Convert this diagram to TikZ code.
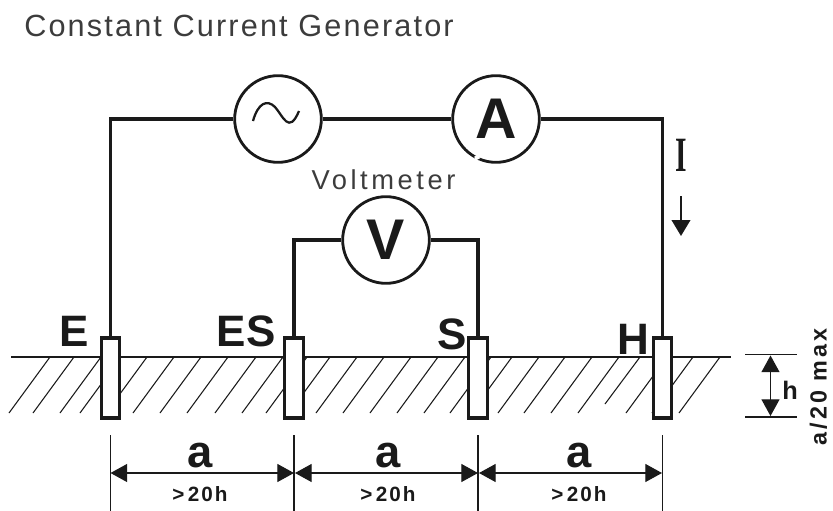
\documentclass[tikz,border=0pt]{standalone}
\usepackage{amsmath}
\usepackage{fontspec}
\usepackage{tikz}
\usetikzlibrary{arrows.meta}
\setmainfont{Liberation Sans}
\newfontfamily\titlefont[LetterSpace=7]{Liberation Sans}
\newfontfamily\voltfont[LetterSpace=13]{Liberation Sans}
\newfontfamily\notefont[LetterSpace=10]{Liberation Sans Bold}
\newfontfamily\maxfont[LetterSpace=13]{Liberation Sans Bold}
\newfontfamily\serifI{Liberation Serif Bold}
\definecolor{inkblack}{HTML}{1A1A1A}
\definecolor{inkgrey}{HTML}{3C3C3C}
\tikzset{
  wire/.style={line width=2.4pt,color=inkblack,line join=miter},
  meter/.style={draw=inkblack,circle,line width=2.1pt,fill=white,minimum size=65pt,inner sep=0pt,font=\fontsize{43}{43}\selectfont\bfseries,text=inkblack},
  electrode/.style={draw=inkblack,rectangle,line width=2.3pt,fill=white,minimum width=14pt,minimum height=60pt,inner sep=0pt},
  thinline/.style={line width=0.9pt,color=inkblack},
  hatchline/.style={line width=0.8pt,color=inkblack},
  dimarrow/.style={line width=0.9pt,color=inkblack,{Triangle[length=12.5pt,width=13.5pt]}-{Triangle[length=12.5pt,width=13.5pt]}},
  bigletter/.style={inner sep=0.75pt,text=inkblack,font=\fontsize{33}{33}\selectfont\bfseries},
  dimletter/.style={inner sep=0.75pt,text=inkblack,font=\fontsize{34}{34}\selectfont\bfseries},
  dimnote/.style={inner sep=0.75pt,text=inkblack,font=\fontsize{15.5}{15.5}\notefont},
}
\begin{document}
\begin{tikzpicture}[x=0.75pt,y=0.75pt,yscale=-1,xscale=1]
\useasboundingbox (0,0) rectangle (833,511);

%Ground hatching
\foreach \hx in {50,74,101,121,147,174,201,228,256,283,307,330,357,384,411,438,465,491,512,539,565,592,619,667,693,720}
  \draw [hatchline] (\hx,357) -- (\hx-41,413);
\draw [hatchline] (640,357) -- (605,404);
%Straight Lines
\draw [line width=1.3pt,color=inkblack] (11,357) -- (731,357);

%Shape: Electrodes
\node (elecE) [electrode] at (110.5,378) {};
\node (elecES) [electrode] at (294,378) {};
\node (elecS) [electrode] at (478,378) {};
\node (elecH) [electrode] at (662.5,378) {};

%Shape: Circles
\node (generator) [meter] at (278,119) {};
\node (ammeter) [meter] at (496,119) {A};
\node (voltmeter) [meter] at (386,240) {V};
\draw [white,line width=3pt] (ammeter.242) arc (242:248:44.5);

%Wires
\draw [wire] (elecE.north) -- (110.5,119) -- (generator.west);
\draw [wire] (generator.east) -- (ammeter.west);
\draw [wire] (ammeter.east) -- (662.5,119) -- (elecH.north);
\draw [wire] (elecES.north) -- (294,240) -- (voltmeter.west);
\draw [wire] (voltmeter.east) -- (478,240) -- (elecS.north);

%Tilde
\draw [line width=1.7pt,color=inkblack] (253,121) .. controls (258,103) and (267,99) .. (275,107) .. controls (283,116) and (289,135) .. (299,111);

%Current arrow
\coordinate (arrowtop) at (681,196);
\coordinate (arrowtip) at (681,236);
\draw [line width=1.5pt,color=inkblack,-{Triangle[length=12pt,width=14pt]}] (arrowtop) -- (arrowtip);

%Dimension lines
\coordinate (footE) at (110.5,435);
\coordinate (footES) at (294,435);
\coordinate (footS) at (478,435);
\coordinate (footH) at (662.5,435);
\coordinate (footEb) at (110.5,511);
\coordinate (footESb) at (294,511);
\coordinate (footSb) at (478,511);
\coordinate (footHb) at (662.5,511);
\draw [thinline] (footE) -- (footEb);
\draw [thinline] (footES) -- (footESb);
\draw [thinline] (footS) -- (footSb);
\draw [thinline] (footH) -- (footHb);
\draw [dimarrow] (110.5,473) -- (294,473);
\draw [dimarrow] (295,473) -- (478,473);
\draw [dimarrow] (479,473) -- (662,473);
\coordinate (levelTopL) at (745,354.5);
\coordinate (levelTopR) at (797,354.5);
\coordinate (levelBotL) at (745,417);
\coordinate (levelBotR) at (797,417);
\draw [thinline] (levelTopL) -- (levelTopR);
\draw [thinline] (levelBotL) -- (levelBotR);
\draw [dimarrow] (770.5,355.5) -- (770.5,416);

% Text Node
\draw (239,26) node (title) [inner sep=0.75pt,text=inkgrey] {\fontsize{23}{23}\titlefont Constant Current Generator};
% Text Node
\draw (383.5,180) node (voltlabel) [inner sep=0.75pt,text=inkgrey] {\fontsize{20.5}{20.5}\voltfont Voltmeter};
% Text Node
\draw (74,331) node (lblE) [bigletter] {E};
\draw (246,331) node (lblES) [bigletter] {ES};
\draw (452.5,334) node (lblS) [bigletter] {S};
\draw (633,339) node (lblH) [bigletter] {H};
% Text Node
\draw (681,155) node (lblI) [inner sep=0.75pt,text=inkblack,xscale=0.6] {\fontsize{37}{37}\serifI I};
% Text Node
\draw (200,456) node (dimA) [dimletter] {a};
\draw (388,456) node (dimB) [dimletter] {a};
\draw (579,456) node (dimC) [dimletter] {a};
\draw (200,494) node (noteA) [dimnote] {>\,20h};
\draw (388,494) node (noteB) [dimnote] {>\,20h};
\draw (579,494) node (noteC) [dimnote] {>\,20h};
% Text Node
\draw (790,390) node (lblh) [inner sep=0.75pt,text=inkblack,font=\fontsize{19}{19}\selectfont\bfseries] {h};
\draw (818.5,387) node (lblmax) [inner sep=0.75pt,text=inkblack,rotate=90,font=\fontsize{17.5}{17.5}\maxfont] {a/20 max};
\end{tikzpicture}
\end{document}
